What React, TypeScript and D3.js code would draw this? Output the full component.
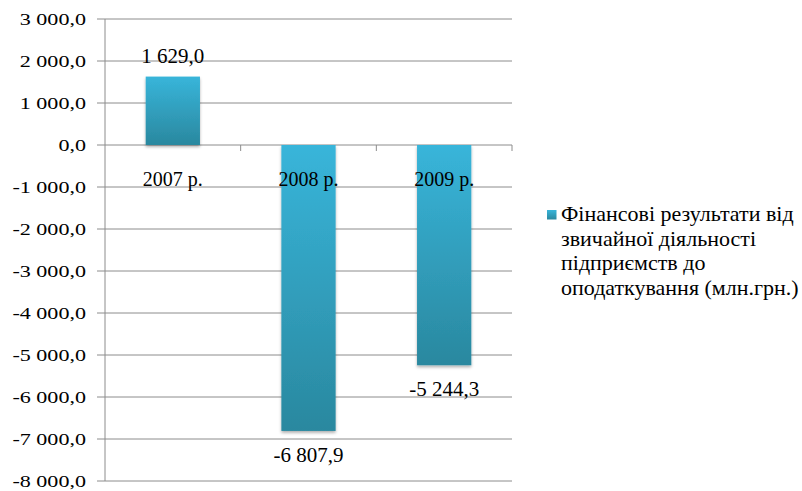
import React from "react";
import * as d3 from "d3";

const categories = ["2007 р.", "2008 р.", "2009 р."];
const values = [1629.0, -6807.9, -5244.3];
const tickValues = [3000, 2000, 1000, 0, -1000, -2000, -3000, -4000, -5000, -6000, -7000, -8000];
const legendLines = ["Фінансові результати від", "звичайної діяльності", "підприємств до", "оподаткування (млн.грн.)"];

const fmt = (v: number) => {
  const s = d3.format(",.1f")(v).replace(/,/g, " ").replace(".", ",");
  return s.replace("−", "-");
};

const font = "Liberation Serif, Tinos, DejaVu Serif, serif";

function T(props: { x: number; y: number; sx?: number; size: number; anchor?: string; children: React.ReactNode }) {
  const { x, y, sx = 1, size, anchor = "start", children } = props;
  return (
    <text
      transform={`translate(${x},${y}) scale(${sx},1)`}
      textAnchor={anchor}
      fontSize={size}
      fill="#000"
      style={{ fontFamily: font }}
    >
      {children}
    </text>
  );
}

export default function App() {
  const W = 802, H = 491;
  const left = 105, right = 512, top = 19, bottom = 481;
  const x = d3.scaleBand().domain(categories).range([left, right]).paddingInner(0).paddingOuter(0);
  const y = d3.scaleLinear().domain([-8000, 3000]).range([bottom, top]);
  const bw = x.bandwidth() * 0.4;
  const y0 = y(0);
  return (
    <svg width={W} height={H} style={{ position: "absolute", left: 0, top: 0, background: "#fff", fontFamily: font }}>
      <defs>
        <linearGradient id="bg" x1="0" y1="0" x2="0" y2="1">
          <stop offset="0" stopColor="#38b5da" />
          <stop offset="1" stopColor="#2a889f" />
        </linearGradient>
        <filter id="sh" x="-20%" y="-20%" width="140%" height="140%">
          <feDropShadow dx="0" dy="2" stdDeviation="1.5" floodColor="#000" floodOpacity="0.3" />
        </filter>
      </defs>
      {tickValues.map((t) => (
        <g key={t}>
          <line x1={left - 8} x2={right} y1={y(t)} y2={y(t)} stroke="#8c8c8c" strokeWidth={1} />
          <T x={86} y={y(t) + 6.3} sx={1.3} size={17} anchor="end">
            {fmt(t)}
          </T>
        </g>
      ))}
      <line x1={left} x2={left} y1={top} y2={bottom} stroke="#8c8c8c" strokeWidth={1} />
      {categories.map((c, i) => (
        <line key={"tk" + i} x1={(x(c) as number) + x.bandwidth()} x2={(x(c) as number) + x.bandwidth()} y1={y0} y2={y0 + 6} stroke="#8c8c8c" />
      ))}
      {categories.map((c, i) => {
        const cx = (x(c) as number) + x.bandwidth() / 2;
        const v = values[i];
        const yt = Math.min(y(v), y0);
        const h = Math.abs(y(v) - y0);
        return (
          <rect key={"b" + i} x={cx - bw / 2} y={yt} width={bw} height={h} fill="url(#bg)" filter="url(#sh)" />
        );
      })}
      {categories.map((c, i) => {
        const cx = (x(c) as number) + x.bandwidth() / 2;
        const v = values[i];
        const ly = v >= 0 ? y(v) - 14 : y(v) + 31;
        return (
          <g key={"l" + i}>
            <T x={cx} y={ly} size={21} anchor="middle">
              {fmt(v)}
            </T>
            <T x={cx} y={y0 + 41} size={20} anchor="middle">
              {c}
            </T>
          </g>
        );
      })}
      <rect x={547} y={210} width={9.5} height={9.5} fill="url(#bg)" />
      {legendLines.map((l, i) => (
        <T key={"lg" + i} x={561} y={221 + i * 24.5} size={20} sx={1.1}>
          {l}
        </T>
      ))}
    </svg>
  );
}
